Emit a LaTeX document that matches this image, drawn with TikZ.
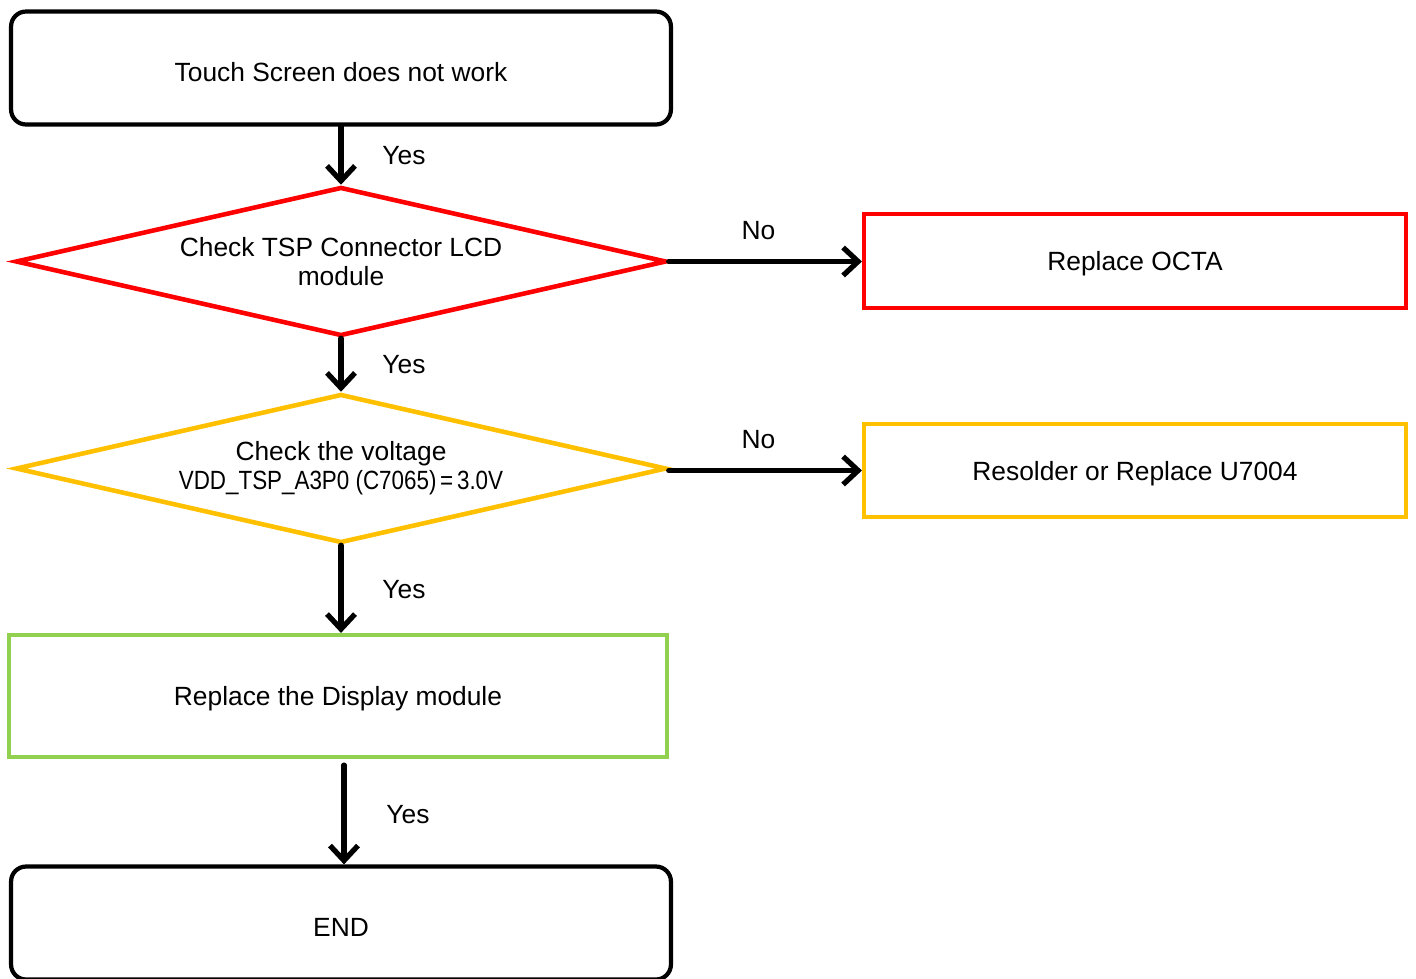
\documentclass[tikz,border=0pt]{standalone}
\usepackage{fontspec}
\setmainfont{Liberation Sans}
\usepackage{graphicx}
\usetikzlibrary{shapes.geometric,arrows.meta}
\definecolor{tspred}{HTML}{FF0000}
\definecolor{tsporange}{HTML}{FFC000}
\definecolor{tspgreen}{HTML}{92D050}

\begin{document}
\begin{tikzpicture}[x=0.02cm, y=-0.02cm, line width=2.4pt,
  every node/.style={font=\fontsize{15pt}{16.5pt}\selectfont, align=center},
  boxtext/.style={text height=15pt, text depth=0pt},
  startstop/.style={draw=black, boxtext, rounded corners=0.3cm, minimum width=13.2cm, minimum height=2.26cm},
  decision/.style={diamond, shape aspect=4.3, inner sep=0pt, line width=2.6pt, minimum width=13.02cm, minimum height=2.98cm},
  action/.style={draw, boxtext, text depth=4pt, rectangle, minimum width=10.84cm, minimum height=1.88cm},
  arrow/.style={-{Straight Barb[length=0.3cm, width=0.56cm]}, line width=3pt, line cap=round, draw=black}]
  \useasboundingbox (0,0) rectangle (1416,978);
  % boxes of the flow
  \node[startstop] (start) at (341,68) {Touch Screen does not work};
  \node[decision, draw=tspred] (tsp) at (341,261.5) {Check TSP Connector LCD\\module};
  \node[action, draw=tspred] (octa) at (1135,261) {Replace OCTA};
  \node[decision, draw=tsporange] (volt) at (341,468.5)
    {Check the voltage\\\scalebox{0.85}[1]{VDD\_TSP\_A3P0 (C7065)\,=\,3.0V}};
  \node[action, draw=tsporange, minimum height=1.86cm] (resolder) at (1135,470.5) {Resolder or Replace U7004};
  \node[action, draw=tspgreen, minimum width=13.16cm, minimum height=2.44cm] (display) at (338,696)
    {Replace the Display module};
  \node[startstop] (end) at (341,923) {END};
  \coordinate (dispout) at ([yshift=-0.12cm]display.south);
  \coordinate (endin) at ([xshift=0.06cm]end.north);
  % connectors
  \draw[arrow] (start.south) -- node[midway, xshift=1.26cm] {Yes} (tsp.north);
  \draw[arrow] (tsp.east) -- node[midway, yshift=0.62cm, xshift=-0.14cm] {No} (tsp.east -| octa.west);
  \draw[arrow] (tsp.south) -- node[midway, xshift=1.26cm] {Yes} (volt.north);
  \draw[arrow] (volt.east |- resolder.west) -- node[midway, yshift=0.62cm, xshift=-0.14cm] {No} (resolder.west);
  \draw[arrow] (volt.south) -- node[midway, xshift=1.26cm] {Yes} (volt.south |- display.north);
  \draw[arrow] (dispout -| endin) -- node[midway, xshift=1.28cm] {Yes} (endin);
\end{tikzpicture}
\end{document}
